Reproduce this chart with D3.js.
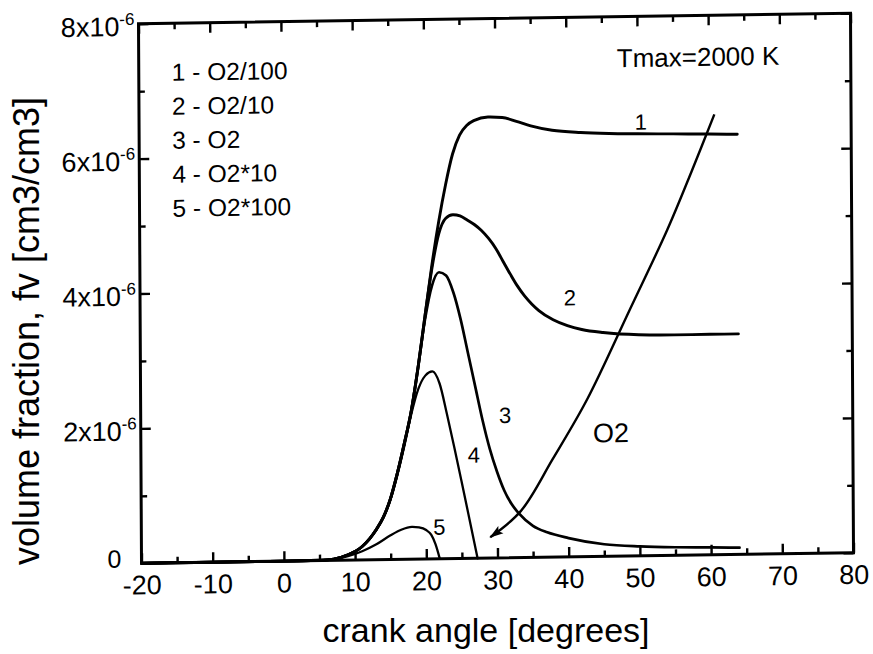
<!DOCTYPE html>
<html><head><meta charset="utf-8">
<script src="https://cdn.jsdelivr.net/npm/d3@7"></script>
<style>
body{margin:0;background:#fff}
text{font-family:"Liberation Sans",Arial,Helvetica,sans-serif;fill:#000}
</style>
</head><body>
<svg id="chart" width="873" height="654"></svg>
<script>
// ---------- data (y values in units of 1e-6 cm3/cm3) ----------
const xTickValues = [-20,-10,0,10,20,30,40,50,60,70,80];
const xMinorTickValues = [-15,-5,5,15,25,35,45,55,65,75];
const yTickValues = [0,2,4,6,8];
const yTickMantissa = ["0","2x10","4x10","6x10","8x10"];
const yTickExponent = ["","-6","-6","-6","-6"];
const yMinorTickValues = [1,3,5,7];

const s1X = [-20,0,5,7,9,11,13,14,15,16,17,18,19,20,21,22,23,24,25,26,27,29,31,33,35,38,42,46,50,55,60,64];
const s1Y = [0,0,0.005,0.02,0.08,0.2,0.45,0.63,0.9,1.28,1.72,2.2,2.85,3.6,4.35,5.0,5.55,6.0,6.28,6.42,6.49,6.54,6.53,6.47,6.4,6.33,6.29,6.27,6.26,6.25,6.24,6.23];

const s2X = [-20,0,5,7,9,11,13,14,15,16,17,18,19,20,21,22,23,24,25,26,27,28,29,30,31,32,33,34,35,36,38,40,42,45,50,55,60,64];
const s2Y = [0,0,0.005,0.02,0.08,0.2,0.45,0.63,0.9,1.28,1.72,2.2,2.85,3.6,4.3,4.82,5.05,5.1,5.08,5.02,4.95,4.86,4.74,4.59,4.4,4.21,4.03,3.88,3.76,3.66,3.52,3.43,3.37,3.32,3.28,3.27,3.27,3.27];

const s3X = [-20,0,5,7,9,11,13,14,15,16,17,18,19,20,21,22,23,24,25,26,27,28,29,30,31,32,33,35,37,40,45,50,55,60,64];
const s3Y = [0,0,0.005,0.02,0.08,0.2,0.45,0.63,0.9,1.28,1.72,2.2,2.85,3.55,4.05,4.25,4.2,3.95,3.55,3.05,2.55,2.05,1.62,1.28,1.0,0.8,0.66,0.47,0.37,0.28,0.18,0.14,0.12,0.11,0.1];

const s4X = [-20,0,5,7,9,11,13,14,15,16,17,18,19,20,21,22,23,24,25,26,27.2];
const s4Y = [0,0,0.005,0.02,0.08,0.2,0.44,0.62,0.88,1.25,1.68,2.15,2.52,2.72,2.78,2.6,2.15,1.66,1.15,0.63,0];

const s5X = [-20,0,5,7,9,11,13,15,16.5,18,19,20,20.7,21.3,21.9];
const s5Y = [0,0,0.005,0.02,0.06,0.13,0.23,0.36,0.44,0.48,0.47,0.43,0.36,0.22,0];

const arrowX = [60.8,57.6,54.1,48.8,42.7,37.8,33.3,29.0];
const arrowY = [6.53,5.7,4.83,3.66,2.33,1.45,0.69,0.31];

const legendLines = ["1 - O2/100","2 - O2/10","3 - O2","4 - O2*10","5 - O2*100"];
const curveLabels = ["1","2","3","4","5"];
const curveLabelX = [49.6,39.5,30.3,25.9,21.0];
const curveLabelY = [6.32,3.73,2.0,1.42,0.36];

// ---------- layout ----------
const svg = d3.select("#chart");
const L = 140, R = 852, T = 18.5, B = 558;
const x = d3.scaleLinear().domain([-20,80]).range([L,R]);
const y = d3.scaleLinear().domain([0,8]).range([B,T]);

// scanned page is slightly skewed
const g = svg.append("g").attr("transform","matrix(1,-0.0148,0.0056,1,-1.61,7.34)");

const series = [[s1X,s1Y,2.9],[s2X,s2Y,2.9],[s3X,s3Y,2.7],[s4X,s4Y,2.3],[s5X,s5Y,2.3]];
const line = d3.line().x(d=>x(d[0])).y(d=>y(d[1])).curve(d3.curveMonotoneX);
series.forEach(([xs,ys,w])=>{
  g.append("path").datum(xs.map((v,i)=>[v,ys[i]]))
   .attr("d",line).attr("fill","none").attr("stroke","#000")
   .attr("stroke-width",w).attr("stroke-linejoin","round").attr("stroke-linecap","round");
});

// arrow
svg.append("defs").append("marker").attr("id","ah")
  .attr("viewBox","0 -5 14 10").attr("refX",13).attr("refY",0)
  .attr("markerWidth",14).attr("markerHeight",10).attr("markerUnits","userSpaceOnUse")
  .attr("orient","auto")
  .append("path").attr("d","M0,-4.5L14,0L0,4.5L3,0Z").attr("fill","#000");
g.append("path").datum(arrowX.map((v,i)=>[v,arrowY[i]]))
  .attr("d",d3.line().x(d=>x(d[0])).y(d=>y(d[1])).curve(d3.curveCatmullRom))
  .attr("fill","none").attr("stroke","#000").attr("stroke-width",2.4)
  .attr("marker-end","url(#ah)");

// axes (ticks inward)
function styleAxis(sel){
  sel.select(".domain").remove();
  sel.selectAll(".tick line").attr("stroke","#000").attr("stroke-width",2.4);
}
g.append("g").attr("transform",`translate(0,${B})`)
  .call(d3.axisBottom(x).tickValues(xTickValues).tickSize(-10).tickPadding(12).tickFormat(d=>String(d)))
  .call(styleAxis)
  .call(s=>s.selectAll(".tick text").attr("font-size",27).attr("font-family","Liberation Sans, Arial, sans-serif").attr("fill","#000"));
g.append("g").attr("transform",`translate(0,${B})`)
  .call(d3.axisBottom(x).tickValues(xMinorTickValues).tickSize(-6).tickFormat(""))
  .call(styleAxis);
g.append("g").attr("transform",`translate(0,${T})`)
  .call(d3.axisTop(x).tickValues(xTickValues).tickSize(-10).tickFormat(""))
  .call(styleAxis);
g.append("g").attr("transform",`translate(0,${T})`)
  .call(d3.axisTop(x).tickValues(xMinorTickValues).tickSize(-6).tickFormat(""))
  .call(styleAxis);
g.append("g").attr("transform",`translate(${L},0)`)
  .call(d3.axisLeft(y).tickValues(yTickValues).tickSize(-10).tickFormat(""))
  .call(styleAxis);
g.append("g").attr("transform",`translate(${L},0)`)
  .call(d3.axisLeft(y).tickValues(yMinorTickValues).tickSize(-6).tickFormat(""))
  .call(styleAxis);
g.append("g").attr("transform",`translate(${R},0)`)
  .call(d3.axisRight(y).tickValues(yTickValues).tickSize(-10).tickFormat(""))
  .call(styleAxis);
g.append("g").attr("transform",`translate(${R},0)`)
  .call(d3.axisRight(y).tickValues(yMinorTickValues).tickSize(-6).tickFormat(""))
  .call(styleAxis);

// frame
g.append("rect").attr("x",L).attr("y",T).attr("width",R-L).attr("height",B-T)
  .attr("fill","none").attr("stroke","#000").attr("stroke-width",3);

// y tick labels with superscript
yTickValues.forEach((v,i)=>{
  const hasExp = !!yTickExponent[i];
  const t = g.append("text").attr("x",hasExp ? L-4 : L-20).attr("y",y(v)+(hasExp?12:4))
    .attr("text-anchor","end").attr("font-size",hasExp ? 27 : 25);
  t.append("tspan").text(yTickMantissa[i]);
  if (hasExp) t.append("tspan").attr("font-size",17).attr("dy",-11).text(yTickExponent[i]);
});

// legend
legendLines.forEach((s,i)=>{
  g.append("text").attr("x",173).attr("y",76+i*34).attr("font-size",24.5).text(s);
});
g.append("text").attr("x",618).attr("y",69).attr("font-size",26).text("Tmax=2000 K");

// curve labels
curveLabels.forEach((s,i)=>{
  g.append("text").attr("x",x(curveLabelX[i])).attr("y",y(curveLabelY[i]))
   .attr("font-size",22).text(s);
});
g.append("text").attr("x",x(43.5)).attr("y",y(1.69)).attr("font-size",27).text("O2");

// axis titles
svg.append("text").attr("x",486).attr("y",642).attr("text-anchor","middle")
  .attr("font-size",34).text("crank angle [degrees]");
svg.append("text").attr("transform","translate(39,331) rotate(-90)").attr("text-anchor","middle")
  .attr("font-size",36).text("volume fraction, fv [cm3/cm3]");
</script>
</body></html>
